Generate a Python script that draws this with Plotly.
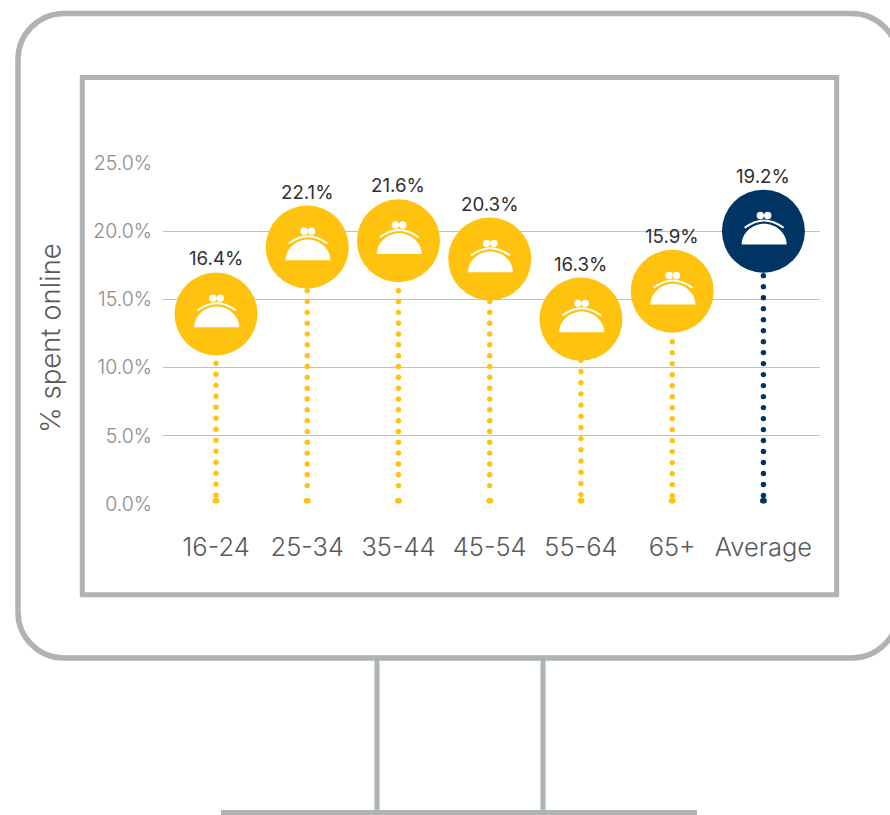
import numpy as np
import plotly.graph_objects as go

# --- data ---
categories = ["16-24", "25-34", "35-44", "45-54", "55-64", "65+", "Average"]
label_values = ["16.4%", "22.1%", "21.6%", "20.3%", "16.3%", "15.9%", "19.2%"]
marker_values = [13.93, 18.84, 19.30, 17.96, 13.56, 15.60, 20.00]
stem_tops = [10.32, 15.64, 15.64, 15.64, 10.54, 11.90, 16.74]
stem_steps = [0.806, 0.794, 0.794, 0.794, 0.821, 0.806, 0.806]
stem_counts = [13, 19, 19, 19, 13, 15, 21]
stem_base = 0.24
y_ticks = [0, 5, 10, 15, 20, 25]

GOLD = "#FFC20E"
NAVY = "#003462"
FRAME = "#AEB3B6"
FONT = "Inter"
colors = [GOLD] * 6 + [NAVY]

W, H = 890, 815
fig = go.Figure()

# dotted stems
for i, (top, step, n, c) in enumerate(zip(stem_tops, stem_steps, stem_counts, colors)):
    ys = [top - k * step for k in range(n)] + [stem_base, stem_base]
    xs = [i] * n + [i - 0.008, i + 0.008]
    fig.add_trace(go.Scatter(x=xs, y=ys, mode="markers", cliponaxis=False, showlegend=False,
                             marker=dict(size=5.4, color=c, line=dict(width=0)), hoverinfo="skip"))

# circles
fig.add_trace(go.Scatter(
    x=list(range(len(categories))), y=marker_values, mode="markers",
    cliponaxis=False, showlegend=False,
    marker=dict(size=83, color=colors, opacity=1, line=dict(width=0)),
))

shapes = []

# purse icon on each circle, in pixels relative to the circle centre
def anchored(i, v):
    return dict(xref="x", yref="y", xsizemode="pixel", ysizemode="pixel", xanchor=i, yanchor=v, layer="above")

for i, v in enumerate(marker_values):
    shapes.append(dict(type="path", fillcolor="white", line=dict(width=0),
                       path="M -21.8 -13.3 C -21.8 -2 -11.3 7.5 0.7 7.5 C 12.7 7.5 23.2 -2 23.2 -13.3 Z", **anchored(i, v)))
    shapes.append(dict(type="path", line=dict(width=2, color="white"),
                       path="M -18.8 3.5 C -13 7.5 -6 10.7 0.7 10.7 C 7.4 10.7 14.4 7.5 20.2 3.5", **anchored(i, v)))
    for cx in (-3.1, 4.3):
        shapes.append(dict(type="circle", fillcolor="white", line=dict(width=0),
                           x0=cx - 3.7, x1=cx + 3.7, y0=12, y1=19.4, **anchored(i, v)))

# monitor outline, in pixels from the top-left corner of the page
def page(path, width=5):
    return dict(type="path", xref="paper", yref="paper", xsizemode="pixel", ysizemode="pixel",
                xanchor=0, yanchor=1, layer="below", path=path,
                line=dict(color=FRAME, width=width))

r = 46
k = r * 0.448
L, T, R, B = 18, 13.5, 898, 658
shapes.append(page(
    f"M {L+r} {-T} L {R-r} {-T} C {R-k} {-T} {R} {-T-k} {R} {-T-r} L {R} {-B+r} "
    f"C {R} {-B+k} {R-k} {-B} {R-r} {-B} L {L+r} {-B} C {L+k} {-B} {L} {-B+k} {L} {-B+r} "
    f"L {L} {-T-r} C {L} {-T-k} {L+k} {-T} {L+r} {-T} Z", 5.5))
shapes.append(page("M 82.3 -77.5 L 836.7 -77.5 L 836.7 -594.8 L 82.3 -594.8 Z"))
shapes.append(page("M 377 -658 L 377 -812"))
shapes.append(page("M 543 -658 L 543 -812"))
shapes.append(page("M 221 -812.5 L 697 -812.5"))

annotations = [dict(text="% spent online", xref="paper", yref="paper",
                    x=50 / W, y=(H - 338) / H, xanchor="center", yanchor="middle",
                    textangle=-90, showarrow=False,
                    font=dict(family=FONT, size=27.5, color="#58595B", weight=300))]
for i, (v, t) in enumerate(zip(marker_values, label_values)):
    annotations.append(dict(text=t, x=i, y=v, xref="x", yref="y", yshift=55, showarrow=False,
                            xanchor="center", yanchor="middle",
                            font=dict(family=FONT, size=18.7, color="#2F2F2F", weight=400)))

fig.update_layout(
    width=W, height=H, template=None,
    margin=dict(l=0, r=0, t=0, b=0, pad=0),
    paper_bgcolor="white", plot_bgcolor="white",
    showlegend=False, shapes=shapes, annotations=annotations,
    xaxis=dict(domain=[163 / W, 820 / W], range=[-0.581, 6.62], automargin=False,
               tickmode="array", tickvals=list(range(7)), ticktext=categories,
               showgrid=False, zeroline=False, showline=False,
               ticks="outside", ticklen=20, tickcolor="rgba(0,0,0,0)",
               tickfont=dict(family=FONT, size=25.5, color="#58595B", weight=300)),
    yaxis=dict(domain=[(H - 504) / H, (H - 163) / H], range=[0, 25], automargin=False,
               tickmode="array", tickvals=y_ticks, ticktext=[f"{t:.1f}%" for t in y_ticks],
               showgrid=True, gridcolor="#BFC2C4", gridwidth=1, zeroline=False, showline=False,
               ticks="outside", ticklen=6, tickcolor="rgba(0,0,0,0)",
               tickfont=dict(family=FONT, size=19.5, color="#8A8C8E", weight=300)),
)

fig.write_html("out.html", post_script="document.body.style.margin='0';",
               config={"displayModeBar": False})
